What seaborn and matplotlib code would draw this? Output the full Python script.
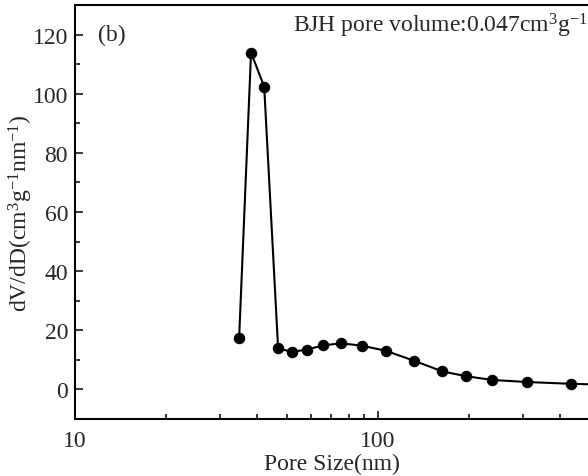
import numpy as np
import pandas as pd
import matplotlib
matplotlib.use("Agg")
import matplotlib.pyplot as plt
import seaborn as sns
from matplotlib.ticker import LogLocator, FixedLocator, MultipleLocator, NullFormatter

# pore size distribution
pore_size = [34.8, 38.1, 42.1, 46.8, 52.0, 58.2, 66.0, 75.5, 88.3, 105.9,
             131.5, 163.0, 194.5, 238.0, 311.0, 434.0, 620.0]
dv_dd = [17.3, 113.9, 102.4, 13.9, 12.7, 13.5, 14.9, 15.6, 14.8, 13.1,
         9.7, 6.1, 4.5, 3.2, 2.5, 1.9, 1.5]

df = pd.DataFrame({"size": pore_size, "dvdd": dv_dd})

sns.set_style("ticks")
plt.rcParams["font.family"] = ["Liberation Serif", "DejaVu Serif"]
plt.rcParams["mathtext.fontset"] = "custom"
plt.rcParams["mathtext.rm"] = "Liberation Serif"
plt.rcParams["mathtext.it"] = "Liberation Serif:italic"

fig = plt.figure(figsize=(5.88, 4.77), dpi=100)
ax = fig.add_axes([75 / 588, 57 / 477, 1 - 75 / 588, 414 / 477])

sns.lineplot(data=df, x="size", y="dvdd", ax=ax, color="black", marker="o",
             markersize=7.5, markeredgecolor="black", linewidth=1.5)

ax.set_xscale("log")
ax.set_xlim(10, 493)
ax.set_ylim(-10, 130)

ax.xaxis.set_major_locator(FixedLocator([10, 100]))
ax.xaxis.set_minor_locator(LogLocator(base=10, subs=np.arange(2, 10)))
ax.xaxis.set_minor_formatter(NullFormatter())
ax.set_xticklabels(["10", "100"])
ax.yaxis.set_major_locator(MultipleLocator(20))
ax.yaxis.set_minor_locator(MultipleLocator(10))

ax.tick_params(which="major", direction="in", length=6, width=1.3, labelsize=17, pad=5)
ax.tick_params(which="minor", direction="in", length=3.5, width=1.3)
ax.tick_params(axis="x", which="major", pad=8)

for side in ["left", "top", "bottom"]:
    ax.spines[side].set_linewidth(1.5)
    ax.spines[side].set_color("black")
ax.spines["right"].set_visible(False)

ax.set_xlabel("Pore Size(nm)", fontsize=17, labelpad=1)
ax.set_ylabel(r"dV/dD(cm$^{3}$g$^{-1}$nm$^{-1}$)", fontsize=17)
ax.yaxis.set_label_coords(-0.078, 0.5)

ax.text(0.045, 0.955, "(b)", transform=ax.transAxes, fontsize=17, va="top", ha="left")
ax.text(1.0, 0.985, r"BJH pore volume:0.047cm$^{3}$g$^{-1}$", transform=ax.transAxes,
        fontsize=17, va="top", ha="right")

fig.savefig("out.png", dpi=100)
